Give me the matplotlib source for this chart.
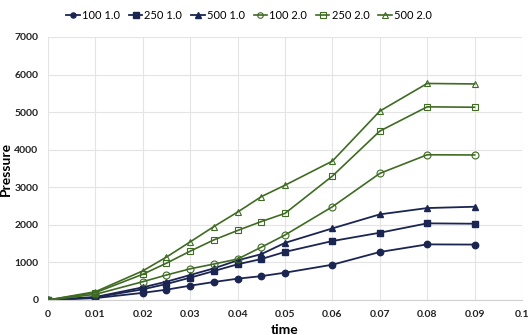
import matplotlib.pyplot as plt
import numpy as np

# data
t = [0, 0.01, 0.02, 0.025, 0.03, 0.035, 0.04, 0.045, 0.05, 0.06, 0.07, 0.08, 0.09]
p100_1 = [0, 50, 190, 275, 381, 479, 567, 635, 727, 939, 1277, 1480, 1475]
p250_1 = [0, 70, 284, 426, 594, 771, 950, 1090, 1280, 1569, 1790, 2040, 2030]
p500_1 = [0, 80, 337, 488, 665, 842, 1055, 1220, 1520, 1906, 2279, 2447, 2482]
p100_2 = [0, 151, 487, 665, 830, 957, 1090, 1405, 1729, 2482, 3369, 3865, 3860]
p250_2 = [0, 195, 685, 980, 1300, 1600, 1850, 2088, 2305, 3298, 4495, 5141, 5130]
p500_2 = [0, 220, 775, 1143, 1547, 1955, 2340, 2750, 3055, 3697, 5027, 5763, 5750]
labels = ['100 1.0', '250 1.0', '500 1.0', '100 2.0', '250 2.0', '500 2.0']

navy = '#1b2552'
green = '#3f6b23'

plt.rcParams['font.family'] = ['Lato', 'DejaVu Sans']

fig = plt.figure(figsize=(5.31, 3.35), dpi=100)
ax = fig.add_axes([0.0904, 0.1045, 0.8926, 0.7851])

series = [p100_1, p250_1, p500_1, p100_2, p250_2, p500_2]
markers = ['o', 's', '^', 'o', 's', '^']
for i, (y, m, lab) in enumerate(zip(series, markers, labels)):
    if i < 3:
        ax.plot(t, y, color=navy, marker=m, markersize=4.6, lw=1.3, label=lab)
    else:
        ax.plot(t, y, color=green, marker=m, markersize=5, lw=1.2,
                markerfacecolor='none', markeredgewidth=0.8, label=lab)

ax.set_xlim(0, 0.1)
ax.set_ylim(0, 7000)
ax.set_xticks(np.arange(0, 0.101, 0.01))
ax.set_xticklabels(['0', '0.01', '0.02', '0.03', '0.04', '0.05', '0.06',
                    '0.07', '0.08', '0.09', '0.1'])
ax.set_yticks(range(0, 7001, 1000))
ax.tick_params(length=0, labelsize=7.5, pad=7, labelcolor='#222222')
for lbl in ax.get_xticklabels() + ax.get_yticklabels():
    lbl.set_fontweight('bold')
ax.grid(color='#e4e4e4', lw=0.8)
ax.set_axisbelow(True)
for s in ['top', 'right', 'left']:
    ax.spines[s].set_visible(False)
ax.spines['bottom'].set_color('#d0d0d0')

ax.set_xlabel('time', fontsize=10, fontweight='bold', labelpad=4)
ax.set_ylabel('Pressure', fontsize=10, fontweight='bold')
ax.yaxis.set_label_coords(-0.077, 0.5)

fig.legend(loc='center', bbox_to_anchor=(0.469, 0.955), ncol=6, frameon=False,
           fontsize=8, handlelength=1.2, columnspacing=0.8, handletextpad=0.2,
           markerscale=0.8)

fig.savefig('out.png', dpi=100)
